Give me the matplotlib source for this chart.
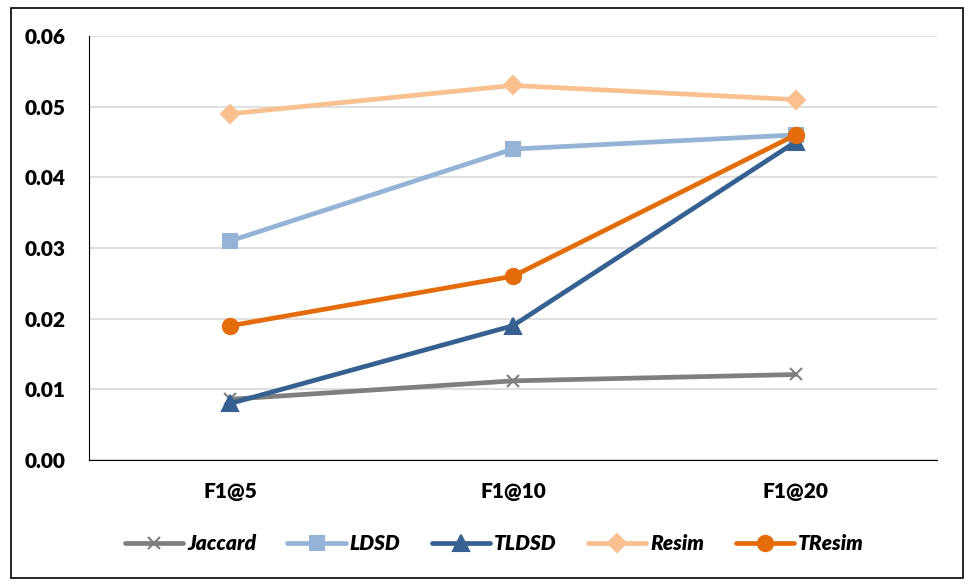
import matplotlib.pyplot as plt
import matplotlib.patches as patches

categories = ['F1@5', 'F1@10', 'F1@20']
jaccard = [0.0086, 0.0112, 0.0121]
ldsd = [0.031, 0.044, 0.046]
tldsd = [0.008, 0.019, 0.045]
resim = [0.049, 0.053, 0.051]
tresim = [0.019, 0.026, 0.046]
y_ticks = [0.00, 0.01, 0.02, 0.03, 0.04, 0.05, 0.06]

series = [
    ('Jaccard', jaccard, '#7f7f7f', 'x', 9),
    ('LDSD', ldsd, '#95b3d7', 's', 10),
    ('TLDSD', tldsd, '#376092', '^', 11),
    ('Resim', resim, '#fac090', 'D', 9),
    ('TResim', tresim, '#e46c0a', 'o', 11),
]

plt.rcParams['font.family'] = ['Lato', 'DejaVu Sans']

fig = plt.figure(figsize=(9.69, 5.86), dpi=100)
ax = fig.add_axes([0.0918, 0.215, 0.875, 0.7236])

x = list(range(len(categories)))
for name, vals, color, marker, ms in series:
    ax.plot(x, vals, color=color, linewidth=3.4, marker=marker, markersize=ms,
            markeredgewidth=1.5, label=name, solid_capstyle='round', zorder=3)

ax.set_xlim(-0.5, 2.5)
ax.set_ylim(0, 0.06)
ax.set_xticks(x)
ax.set_xticklabels(categories, fontsize=15, fontweight='heavy')
ax.set_yticks(y_ticks)
ax.set_yticklabels([f'{v:.2f}' for v in y_ticks], fontsize=15, fontweight='heavy')
ax.tick_params(axis='y', length=0, pad=17)
ax.tick_params(axis='x', length=0, pad=16)
ax.grid(axis='y', color='#d9d9d9', linewidth=1.2, zorder=0)
ax.set_axisbelow(True)
for side in ['top', 'right']:
    ax.spines[side].set_visible(False)
ax.spines['left'].set_color('black')
ax.spines['bottom'].set_color('black')

leg = fig.legend(loc='center', bbox_to_anchor=(0.51, 0.072), ncol=5, frameon=False,
                 prop={'size': 15, 'weight': 'heavy', 'style': 'italic'},
                 handlelength=2.8, handletextpad=0.2, columnspacing=1.5)

fig.patches.append(patches.Rectangle((0.011, 0.014), 0.983, 0.973, transform=fig.transFigure,
                                     fill=False, edgecolor='black', linewidth=1.2))

fig.savefig('out.png', dpi=100)
